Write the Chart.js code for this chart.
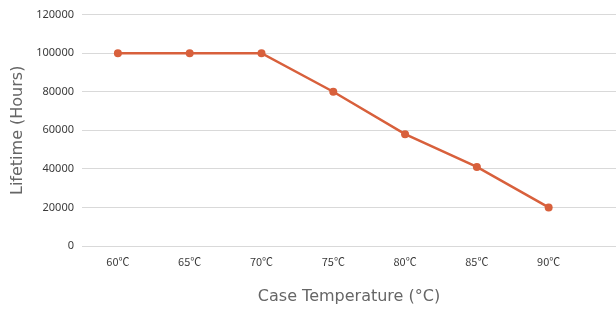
<!DOCTYPE html>
<html>
<head>
<meta charset="utf-8">
<script src="https://cdn.jsdelivr.net/npm/chart.js@4"></script>
<style>
html,body{margin:0;padding:0;background:#fff;}
#wrap{width:616px;height:311px;position:relative;}
</style>
</head>
<body>
<div id="wrap"><canvas id="c" width="616" height="311"></canvas></div>
<script>
const temperatures = [60, 65, 70, 75, 80, 85, 90];
const tickLabels = ['60℃', '65℃', '70℃', '75℃', '80℃', '85℃', '90℃'];
const lifetimeHours = [100000, 100000, 100000, 80000, 58000, 41000, 20000];
const yTicks = [0, 20000, 40000, 60000, 80000, 100000, 120000];

const points = temperatures.map((t, i) => ({ x: t, y: lifetimeHours[i] }));
const lineColor = '#d8603c';

new Chart(document.getElementById('c'), {
  type: 'line',
  data: {
    datasets: [{
      data: points,
      borderColor: lineColor,
      backgroundColor: lineColor,
      borderWidth: 2.5,
      pointRadius: 4,
      pointBorderWidth: 0,
      pointBackgroundColor: lineColor,
      tension: 0
    }]
  },
  options: {
    responsive: false,
    animation: false,
    layout: { autoPadding: false, padding: { top: 12, right: 0, left: 0, bottom: 0 } },
    plugins: { legend: { display: false }, tooltip: { enabled: false } },
    scales: {
      x: {
        type: 'linear',
        min: 57.5,
        max: 94.69,
        grid: { display: false, drawTicks: false },
        border: { display: false },
        afterBuildTicks: (s) => { s.ticks = temperatures.map(v => ({ value: v })); },
        afterFit: (s) => { s.height = 65; s.paddingLeft = 0; s.paddingRight = 0; },
        ticks: {
          padding: 9,
          autoSkip: false,
          maxRotation: 0,
          color: '#3a3a3a',
          font: { family: '"Noto Sans CJK SC", "Noto Sans"', size: 11 },
          callback: (v, i) => tickLabels[i]
        },
        title: {
          display: true,
          text: 'Case Temperature (°C)',
          color: '#666666',
          font: { family: '"DejaVu Sans"', size: 16 },
          padding: { top: 0, bottom: 5 }
        }
      },
      y: {
        min: 0,
        max: 120000,
        afterBuildTicks: (s) => { s.ticks = yTicks.map(v => ({ value: v })); },
        afterFit: (s) => { s.width = 82; },
        grid: { color: '#d9d9d9', lineWidth: 1, drawTicks: false },
        border: { display: false },
        ticks: {
          padding: 8,
          color: '#3a3a3a',
          font: { family: '"Noto Sans"', size: 11 },
          callback: (v) => String(v)
        },
        title: {
          display: true,
          text: 'Lifetime (Hours)',
          color: '#666666',
          font: { family: '"DejaVu Sans"', size: 16 },
          padding: { top: 8, bottom: 0 }
        }
      }
    }
  }
});
</script>
</body>
</html>
